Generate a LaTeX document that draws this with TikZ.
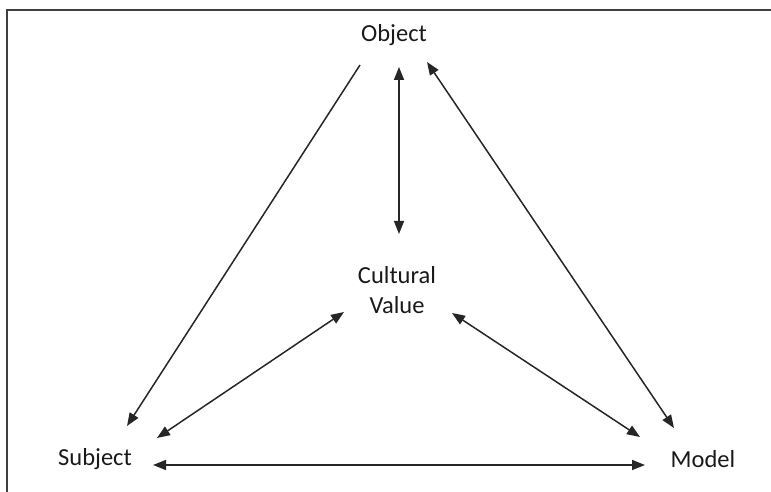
\documentclass[tikz,border=0pt]{standalone}
\usepackage{fontspec}
\setmainfont{Carlito}
\usetikzlibrary{arrows.meta,calc}
\begin{document}
\begin{tikzpicture}[x=1pt,y=1pt,
    lbl/.style={font=\fontsize{24.5}{30}\selectfont,align=center,text=black!90,inner sep=0pt},
    arr/.style={line width=1.5pt,draw=black!85,{Triangle[length=13pt,width=10pt]}-{Triangle[length=13pt,width=10pt]}},
    onearr/.style={line width=1.5pt,draw=black!85,-{Triangle[length=13pt,width=10pt]}}]
      \useasboundingbox (0,0) rectangle (771,492);
      \clip (0,0) rectangle (771,492);
      \draw[line width=1.4pt,black!75] (7,-20) rectangle (790,482);
      \draw
        (394,457) node[lbl] (obj){Object}
        (397,202) node[lbl] (cult){Cultural\\Value}
        (95,33) node[lbl] (subj){Subject}
        (703,33) node[lbl] (model){Model};
      \begin{scope}
        \draw[onearr] ($(obj)+(-34,-30)$) to ($(subj)+(32,33)$);
        \draw[arr] ($(obj)+(5,-32)$) to ($(cult)+(2,56)$);
        \draw[arr] ($(obj)+(33,-27)$) to ($(model)+(-29,31)$);
        \draw[arr] ($(cult)+(-53,-22)$) to ($(subj)+(62,21)$);
        \draw[arr] ($(cult)+(55,-23)$) to ($(model)+(-63,22)$);
        \draw[arr] ($(subj)+(58,-6)$) to ($(model)+(-58,-6)$);
      \end{scope}
    \end{tikzpicture}
\end{document}
